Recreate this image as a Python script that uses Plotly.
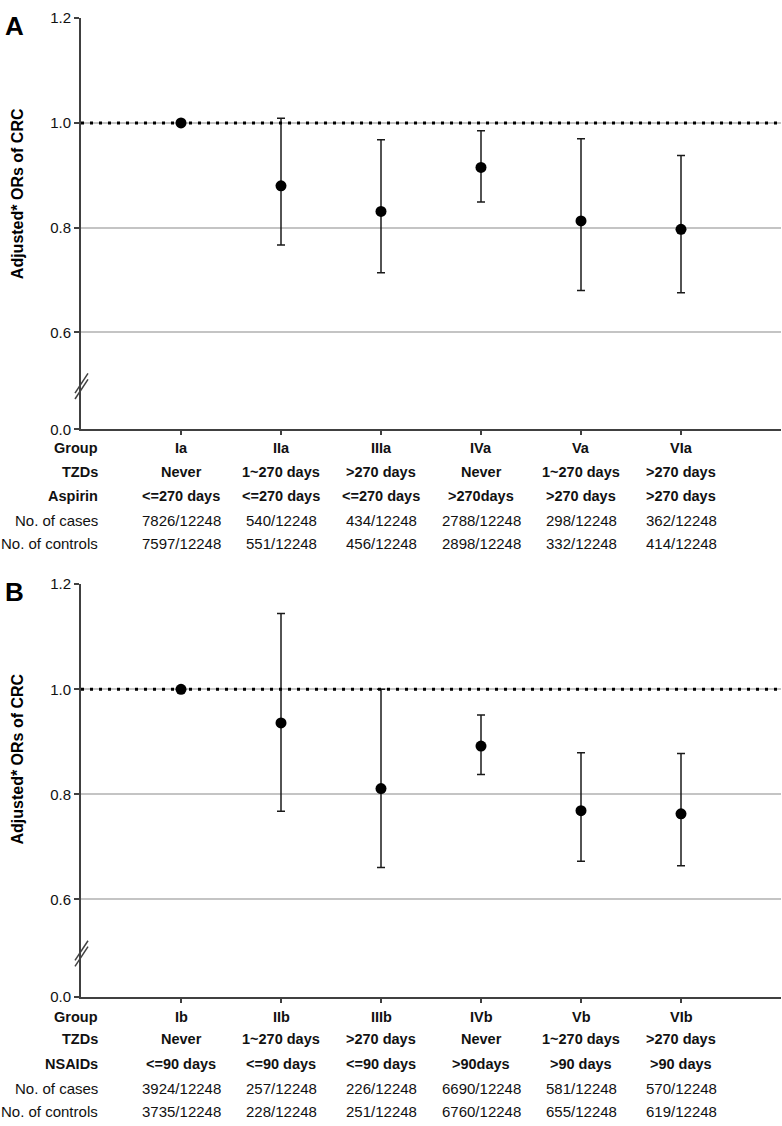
import plotly.graph_objects as go

# panel A: TZDs x aspirin
groups_a = ["Ia", "IIa", "IIIa", "IVa", "Va", "VIa"]
tzd_a = ["Never", "1~270 days", ">270 days", "Never", "1~270 days", ">270 days"]
aspirin_a = ["<=270 days", "<=270 days", "<=270 days", ">270days", ">270 days", ">270 days"]
cases_a = ["7826/12248", "540/12248", "434/12248", "2788/12248", "298/12248", "362/12248"]
controls_a = ["7597/12248", "551/12248", "456/12248", "2898/12248", "332/12248", "414/12248"]
or_a = [1.00, 0.880, 0.831, 0.915, 0.813, 0.797]
lo_a = [1.00, 0.767, 0.714, 0.849, 0.680, 0.676]
hi_a = [1.00, 1.009, 0.968, 0.985, 0.970, 0.938]

# panel B: TZDs x NSAIDs
groups_b = ["Ib", "IIb", "IIIb", "IVb", "Vb", "VIb"]
tzd_b = ["Never", "1~270 days", ">270 days", "Never", "1~270 days", ">270 days"]
nsaid_b = ["<=90 days", "<=90 days", "<=90 days", ">90days", ">90 days", ">90 days"]
cases_b = ["3924/12248", "257/12248", "226/12248", "6690/12248", "581/12248", "570/12248"]
controls_b = ["3735/12248", "228/12248", "251/12248", "6760/12248", "655/12248", "619/12248"]
or_b = [1.00, 0.936, 0.811, 0.892, 0.769, 0.763]
lo_b = [1.00, 0.768, 0.661, 0.838, 0.673, 0.664]
hi_b = [1.00, 1.144, 1.000, 0.951, 0.879, 0.878]

y_ticks = [0.0, 0.6, 0.8, 1.0, 1.2]

W, H = 782, 1126
FONT = "Liberation Sans, Arial, sans-serif"
# axis is broken between 0.0 and 0.6: the 0.0 tick sits at this value
Y_BREAK = 0.4153


def px_x(p):
    return p / W


def px_y(p):
    return 1 - p / H


def esc(s):
    return s.replace("<", "&lt;").replace(">", "&gt;")


fig = go.Figure()

panels = [
    dict(groups=groups_a, rows=[("Group", groups_a, True), ("TZDs", tzd_a, True),
                                ("Aspirin", aspirin_a, True), ("No. of cases", cases_a, False),
                                ("No. of controls", controls_a, False)],
         orv=or_a, lo=lo_a, hi=hi_a, xa="x", ya="y", dom=[px_y(426.7), px_y(9.3)],
         row_y=[446, 470, 494, 519, 543], title_y=188, tag="A", tag_y=17, brk=380),
    dict(groups=groups_b, rows=[("Group", groups_b, True), ("TZDs", tzd_b, True),
                                ("NSAIDs", nsaid_b, True), ("No. of cases", cases_b, False),
                                ("No. of controls", controls_b, False)],
         orv=or_b, lo=lo_b, hi=hi_b, xa="x2", ya="y2", dom=[px_y(1002.7), px_y(584)],
         row_y=[1023, 1046, 1071, 1096, 1119], title_y=762, tag="B", tag_y=592, brk=956),
]

annotations = []
shapes = []
for i, p in enumerate(panels):
    xs = list(range(1, len(p["groups"]) + 1))
    fig.add_trace(go.Scatter(
        x=xs, y=p["orv"], mode="markers",
        marker=dict(color="black", size=11),
        error_y=dict(type="data", symmetric=False,
                     array=[h - v for h, v in zip(p["hi"], p["orv"])],
                     arrayminus=[v - l for l, v in zip(p["lo"], p["orv"])],
                     color="#1a1a1a", thickness=1.5, width=4),
        xaxis=p["xa"], yaxis=p["ya"], showlegend=False, hoverinfo="skip",
    ))
    sfx = "" if i == 0 else "2"
    fig.update_layout(**{
        "xaxis" + sfx: dict(domain=[px_x(81), px_x(781)], range=[0, 7],
                            tickvals=xs, showticklabels=False, ticks="outside",
                            ticklen=4, tickwidth=1.5, tickcolor="#404040",
                            showline=True, linecolor="#404040", linewidth=2,
                            showgrid=False, zeroline=False, fixedrange=True,
                            anchor="y" + sfx),
        "yaxis" + sfx: dict(domain=p["dom"], range=[Y_BREAK, 1.2],
                            tickvals=[Y_BREAK] + y_ticks[1:],
                            ticktext=["%.1f" % t for t in y_ticks],
                            ticks="outside", ticklen=5, tickwidth=1.5, tickcolor="#404040",
                            tickfont=dict(family=FONT, size=15, color="#111"),
                            showline=True, linecolor="#404040", linewidth=2,
                            showgrid=True, gridcolor="#c4c4c4", gridwidth=1.5,
                            zeroline=False, fixedrange=True, anchor="x" + sfx),
    })
    # reference line at OR = 1.0
    shapes.append(dict(type="line", xref=p["xa"] + " domain", yref=p["ya"],
                       x0=0, x1=1, y0=1.0, y1=1.0,
                       line=dict(color="black", width=3, dash="3px,6px")))
    # axis break marks
    for off in (0, 6):
        y0 = p["brk"] + 10 + off
        y1 = p["brk"] - 10 + off
        shapes.append(dict(type="line", xref="paper", yref="paper",
                           x0=px_x(75), x1=px_x(88), y0=px_y(y0), y1=px_y(y1),
                           line=dict(color="#404040", width=1.5)))
    # table under the axis
    for (label, vals, bold), ry in zip(p["rows"], p["row_y"]):
        annotations.append(dict(text=label, xref="paper", yref="paper",
                                x=px_x(100), y=px_y(ry), xanchor="right", yanchor="middle",
                                showarrow=False,
                                font=dict(family=FONT, size=14.5 if bold else 15, color="#111",
                                          weight="bold" if bold else "normal")))
        for x, v in zip(xs, vals):
            annotations.append(dict(text=esc(v), xref=p["xa"], yref="paper",
                                    x=x, y=px_y(ry), xanchor="center", yanchor="middle",
                                    showarrow=False,
                                    font=dict(family=FONT, size=14.5 if bold else 15, color="#111",
                                              weight="bold" if bold else "normal")))
    annotations.append(dict(text="Adjusted* ORs of CRC", xref="paper", yref="paper",
                            x=px_x(17), y=px_y(p["title_y"]), xanchor="center", yanchor="middle",
                            textangle=-90, showarrow=False,
                            font=dict(family=FONT, size=16, color="black", weight="bold")))
    annotations.append(dict(text=p["tag"], xref="paper", yref="paper",
                            x=px_x(14), y=px_y(p["tag_y"]), xanchor="center", yanchor="middle",
                            showarrow=False,
                            font=dict(family=FONT, size=26, color="black", weight="bold")))

fig.update_layout(
    width=W, height=H,
    margin=dict(l=0, r=0, t=0, b=0),
    paper_bgcolor="white", plot_bgcolor="white",
    annotations=annotations, shapes=shapes,
    font=dict(family=FONT),
)

# pin the figure to the window's top-left corner, no body margin
pin = ("document.body.style.margin='0';document.body.style.overflow='hidden';"
       "var d=document.getElementById('{plot_id}');"
       "d.style.position='fixed';d.style.left='0';d.style.top='0';")
fig.write_html("out.html", config={"displayModeBar": False}, post_script=pin)
